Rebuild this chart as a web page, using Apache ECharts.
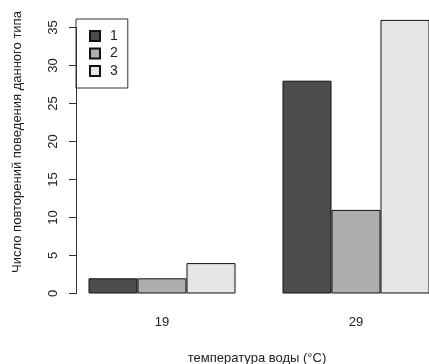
<!DOCTYPE html>
<html><head><meta charset="utf-8">
<script src="https://cdn.jsdelivr.net/npm/echarts@6/dist/echarts.min.js"></script>
<style>html,body{margin:0;padding:0;background:#fff}#c{width:429px;height:364px}</style>
</head><body><div id="c"></div>
<script>
const categories = ['19', '29'];
const seriesNames = ['1', '2', '3'];
const values1 = [2, 28];
const values2 = [2, 11];
const values3 = [4, 36];
const yTicks = [0, 5, 10, 15, 20, 25, 30, 35];
const colors = ['#4D4D4D', '#AEAEAE', '#E6E6E6'];
const font = 'Liberation Sans, Arial, sans-serif';

const chart = echarts.init(document.getElementById('c'), null, {renderer: 'canvas'});
const allVals = [values1, values2, values3];
chart.setOption({
  animation: false,
  backgroundColor: '#fff',
  textStyle: {fontFamily: font},
  grid: {left: 65, top: 27.5, width: 388, height: 266, containLabel: false, outerBoundsMode: 'none'},
  legend: {
    orient: 'vertical', left: 76, top: 19,
    data: seriesNames,
    itemWidth: 10, itemHeight: 10, itemGap: 3.5,
    padding: [10, 10, 10, 13],
    borderColor: '#333', borderWidth: 1,
    icon: 'rect',
    textStyle: {fontFamily: font, fontSize: 14, color: '#222', padding: [0, 0, 0, 5]}
  },
  xAxis: {
    type: 'category', data: categories,
    axisLine: {show: false}, axisTick: {show: false},
    axisLabel: {fontFamily: font, fontSize: 13, color: '#222', margin: 22},
    name: 'температура воды (°C)', nameLocation: 'middle', nameGap: 58,
    nameTextStyle: {fontFamily: font, fontSize: 13, color: '#222', padding: [0, 4, 0, 0]}
  },
  yAxis: {
    type: 'value', min: 0, max: 35, interval: 5, offset: -11,
    splitLine: {show: false},
    axisLine: {show: true, lineStyle: {color: '#333', width: 1}},
    axisTick: {show: true, length: 7, lineStyle: {color: '#333'}},
    axisLabel: {fontFamily: font, fontSize: 13, color: '#222', rotate: 90, margin: 16,
      formatter: v => yTicks.includes(v) ? String(v) : ''},
    name: 'Число повторений поведения данного типа', nameLocation: 'middle', nameGap: 52,
    nameTextStyle: {fontFamily: font, fontSize: 13, color: '#222', padding: [0, 0, 0, 37]}
  },
  series: seriesNames.map((n, i) => ({
    name: n, type: 'bar', data: allVals[i], barWidth: 49, barGap: '0%', clip: false,
    itemStyle: {color: colors[i], borderColor: '#111', borderWidth: 1}
  }))
});
</script></body></html>
